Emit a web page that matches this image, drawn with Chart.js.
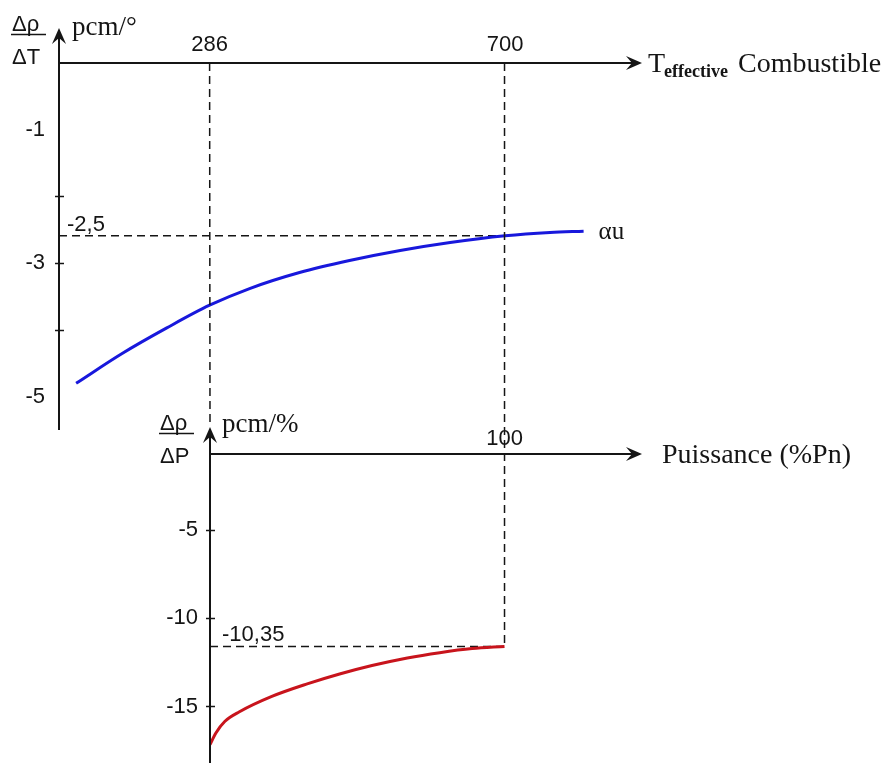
<!DOCTYPE html>
<html>
<head>
<meta charset="utf-8">
<script src="https://cdn.jsdelivr.net/npm/chart.js@4.4.0/dist/chart.umd.min.js"></script>
<style>
    html, body { margin: 0; padding: 0; background: #fff; }
    #wrap { position: relative; width: 885px; height: 763px; }
    #wrap canvas { position: absolute; left: 0; top: 0; }
</style>
</head>
<body>
<div id="wrap">
    <canvas id="topChart" width="885" height="763"></canvas>
    <canvas id="bottomChart" width="885" height="763"></canvas>
</div>
<script>
// Temperature coefficient (top)
const tempValues = [99, 164, 226, 286, 342, 412, 482, 553, 623, 700, 763, 810];
const alphaValues = [-4.80, -4.35, -3.97, -3.63, -3.38, -3.14, -2.96, -2.81, -2.69, -2.59, -2.54, -2.52];
const tempTicks = [286, 700];
const alphaTicks = [-1, -2, -3, -4, -5];
const alphaLabelled = [-1, -3, -5];
const alphaMarked = [-2, -3, -4];
const alphaRefLabel = '-2,5';

// Power coefficient (bottom)
const powerValues = [0, 2, 5, 10, 21, 33, 44, 55, 67, 78, 89, 100];
const powerCoefValues = [-17.16, -16.50, -15.85, -15.30, -14.43, -13.72, -13.16, -12.68, -12.25, -11.95, -11.72, -11.60];
const powerTicks = [100];
const powerCoefTicks = [-5, -10, -15];
const powerRefLabel = '-10,35';

const SANS = '"Liberation Sans", Arial, sans-serif';
const SERIF = '"Liberation Serif", "Times New Roman", serif';
const INK = '#151515';

function zeroPad(s) {
    s.paddingLeft = 0; s.paddingRight = 0; s.paddingTop = 0; s.paddingBottom = 0;
}

function arrowHead(ctx, x, y, angle) {
    ctx.save();
    ctx.translate(x, y);
    ctx.rotate(angle);
    ctx.beginPath();
    ctx.moveTo(0, 0);
    ctx.lineTo(-7, 16);
    ctx.lineTo(0, 10);
    ctx.lineTo(7, 16);
    ctx.closePath();
    ctx.fill();
    ctx.restore();
}

function dashed(ctx, x1, y1, x2, y2) {
    ctx.save();
    ctx.setLineDash([8, 5]);
    ctx.lineWidth = 1.5;
    ctx.strokeStyle = INK;
    ctx.beginPath();
    ctx.moveTo(x1, y1);
    ctx.lineTo(x2, y2);
    ctx.stroke();
    ctx.restore();
}

function drawAxes(chart, upExtra) {
    const { ctx, chartArea: a } = chart;
    ctx.save();
    ctx.strokeStyle = INK;
    ctx.fillStyle = INK;
    ctx.lineWidth = 2;
    ctx.beginPath();
    ctx.moveTo(a.left, a.bottom);
    ctx.lineTo(a.left, a.top - upExtra + 6);
    ctx.moveTo(a.left, a.top);
    ctx.lineTo(a.right - 4, a.top);
    ctx.stroke();
    arrowHead(ctx, a.left, a.top - upExtra, 0);
    arrowHead(ctx, a.right + 2, a.top, Math.PI / 2);
    ctx.restore();
}

function drawMarks(chart, values) {
    const { ctx, chartArea: a, scales: { y } } = chart;
    ctx.save();
    ctx.strokeStyle = INK;
    ctx.lineWidth = 1.5;
    values.forEach(v => {
        const py = Math.round(y.getPixelForValue(v)) + 0.5;
        ctx.beginPath();
        ctx.moveTo(a.left - 4, py);
        ctx.lineTo(a.left + 5, py);
        ctx.stroke();
    });
    ctx.restore();
}

function fraction(ctx, x, yBase, top, bottom) {
    ctx.save();
    ctx.fillStyle = INK;
    ctx.strokeStyle = INK;
    ctx.font = '22px ' + SANS;
    ctx.textAlign = 'left';
    ctx.textBaseline = 'alphabetic';
    ctx.fillText(top, x, yBase);
    ctx.lineWidth = 1.5;
    ctx.beginPath();
    ctx.moveTo(x - 1, yBase + 3.5);
    ctx.lineTo(x + 34, yBase + 3.5);
    ctx.stroke();
    ctx.fillText(bottom, x, yBase + 33);
    ctx.restore();
}

function text(ctx, str, x, y, font, align) {
    ctx.save();
    ctx.fillStyle = INK;
    ctx.font = font;
    ctx.textAlign = align || 'left';
    ctx.textBaseline = 'alphabetic';
    ctx.fillText(str, x, y);
    ctx.restore();
}

const tickFont = { family: SANS, size: 22 };

// ---------- top chart ----------
const topChart = new Chart(document.getElementById('topChart'), {
    type: 'line',
    data: {
        datasets: [{
            data: tempValues.map((t, i) => ({ x: t, y: alphaValues[i] })),
            borderColor: '#1818dc',
            borderWidth: 3,
            pointRadius: 0,
            cubicInterpolationMode: 'monotone',
            fill: false
        }]
    },
    options: {
        responsive: false,
        devicePixelRatio: 1,
        animation: false,
        layout: { padding: { left: 0, top: 0, right: 245, bottom: 333 } },
        plugins: { legend: { display: false }, tooltip: { enabled: false } },
        scales: {
            x: {
                type: 'linear',
                position: 'top',
                min: 75,
                max: 889,
                grid: { display: false, drawTicks: false },
                border: { display: false },
                afterBuildTicks: s => { s.ticks = tempTicks.map(v => ({ value: v })); },
                afterFit: s => { s.height = 63; zeroPad(s); },
                ticks: { color: INK, font: tickFont, padding: 5, maxRotation: 0, callback: v => String(v) }
            },
            y: {
                type: 'linear',
                min: -5.5,
                max: 0,
                grid: { display: false, drawTicks: false },
                border: { display: false },
                afterBuildTicks: s => { s.ticks = alphaTicks.map(v => ({ value: v })); },
                afterFit: s => { s.width = 59; zeroPad(s); },
                ticks: {
                    color: INK, font: tickFont, padding: 14,
                    callback: v => alphaLabelled.includes(v) ? String(v) : ''
                }
            }
        }
    },
    plugins: [{
        id: 'topDecor',
        beforeDatasetsDraw(chart) {
            const { chartArea: a, scales: { x, y } } = chart;
            const refY = y.getPixelForValue(alphaValues[tempValues.indexOf(tempTicks[1])]);
            dashed(chart.ctx, a.left, refY, x.getPixelForValue(tempTicks[1]), refY);
        },
        afterDraw(chart) {
            const { ctx, chartArea: a, scales: { x, y } } = chart;
            drawAxes(chart, 35);
            drawMarks(chart, alphaMarked);
            const refY = y.getPixelForValue(alphaValues[tempValues.indexOf(tempTicks[1])]);
            text(ctx, alphaRefLabel, a.left + 8, refY - 5, '22px ' + SANS);
            fraction(ctx, 12, 31, 'Δρ', 'ΔT');
            text(ctx, 'pcm/°', 72, 35, '27px ' + SERIF);
            // axis title
            const tx = a.right + 8;
            text(ctx, 'T', tx, a.top + 9, '28px ' + SERIF);
            text(ctx, 'effective', tx + 16, a.top + 14, 'bold 18px ' + SERIF);
            text(ctx, 'Combustible', tx + 90, a.top + 9, '28px ' + SERIF);
            // curve name
            const last = tempValues.length - 1;
            text(ctx, 'αu', x.getPixelForValue(tempValues[last]) + 15,
                y.getPixelForValue(alphaValues[last]) + 8, '25px ' + SERIF);
        }
    }]
});

// ---------- bottom chart ----------
new Chart(document.getElementById('bottomChart'), {
    type: 'line',
    data: {
        datasets: [{
            data: powerValues.map((p, i) => ({ x: p, y: powerCoefValues[i] })),
            borderColor: '#c8141c',
            borderWidth: 3,
            pointRadius: 0,
            cubicInterpolationMode: 'monotone',
            fill: false
        }]
    },
    options: {
        responsive: false,
        devicePixelRatio: 1,
        animation: false,
        layout: { padding: { left: 0, top: 424, right: 245, bottom: 0 } },
        plugins: { legend: { display: false }, tooltip: { enabled: false } },
        scales: {
            x: {
                type: 'linear',
                position: 'top',
                min: 0,
                max: 146,
                grid: { display: false, drawTicks: false },
                border: { display: false },
                afterBuildTicks: s => { s.ticks = powerTicks.map(v => ({ value: v })); },
                afterFit: s => { s.height = 30; zeroPad(s); },
                ticks: { color: INK, font: tickFont, padding: 2, maxRotation: 0, callback: v => String(v) }
            },
            y: {
                type: 'linear',
                min: -18.2,
                max: -0.7,
                grid: { display: false, drawTicks: false },
                border: { display: false },
                afterBuildTicks: s => { s.ticks = powerCoefTicks.map(v => ({ value: v })); },
                afterFit: s => { s.width = 210; zeroPad(s); },
                ticks: { color: INK, font: tickFont, padding: 12, callback: v => String(v) }
            }
        }
    },
    plugins: [{
        id: 'bottomDecor',
        beforeDatasetsDraw(chart) {
            const { ctx, chartArea: a, scales: { x, y } } = chart;
            const top = topChart.chartArea.top;
            const refY = y.getPixelForValue(powerCoefValues[powerCoefValues.length - 1]);
            const x100 = x.getPixelForValue(powerTicks[0]);
            dashed(ctx, a.left, refY, x100, refY);
            dashed(ctx, x100, top, x100, refY);
            dashed(ctx, topChart.scales.x.getPixelForValue(tempTicks[0]), top, a.left, a.top - 30);
        },
        afterDraw(chart) {
            const { ctx, chartArea: a, scales: { y } } = chart;
            drawAxes(chart, 27);
            drawMarks(chart, powerCoefTicks);
            const refY = y.getPixelForValue(powerCoefValues[powerCoefValues.length - 1]);
            text(ctx, powerRefLabel, a.left + 12, refY - 5, '22px ' + SANS);
            fraction(ctx, 160, 430, 'Δρ', 'ΔP');
            text(ctx, 'pcm/%', 222, 432, '27px ' + SERIF);
            text(ctx, 'Puissance (%Pn)', a.right + 22, a.top + 9, '28px ' + SERIF);
        }
    }]
});
</script>
</body>
</html>
